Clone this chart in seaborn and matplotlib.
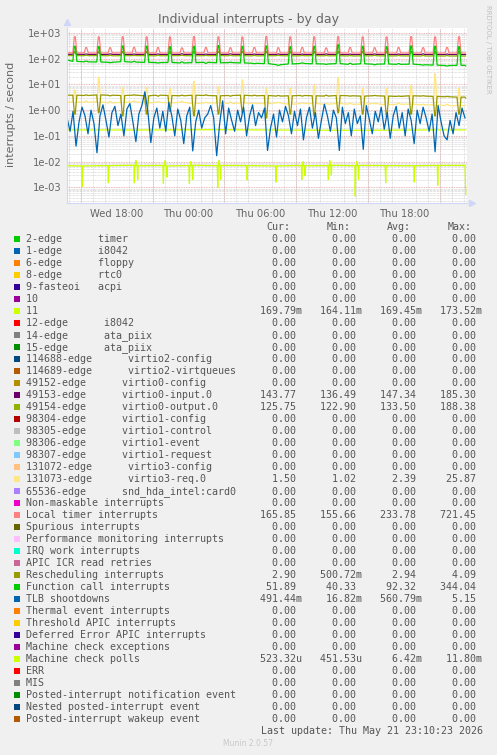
import numpy as np
import matplotlib
matplotlib.use("Agg")
import matplotlib.pyplot as plt
import seaborn as sns
from matplotlib.patches import Rectangle
from matplotlib.ticker import LogLocator, FixedLocator, MultipleLocator, NullFormatter, FuncFormatter

# ---------------- data (hours since Wed 00:00) ----------------
t_start, t_end = 13.85, 47.16

# shared event times (big spikes on even index, small bumps on odd)
ev_t = [14.5, 15.45, 16.5, 17.45, 18.5, 19.45, 20.5, 21.45, 22.45, 23.45, 24.45,
        25.45, 26.5, 27.5, 28.5, 29.5, 30.5, 31.5, 32.5, 33.5, 34.5, 35.5, 36.5,
        37.5, 38.55, 39.55, 40.55, 41.55, 42.6, 43.6, 44.6, 45.6, 46.6]

local_peak = [705, 270, 700, 265, 710, 275, 700, 270, 695, 260, 715, 270, 700, 265, 690, 270,
              721, 265, 700, 270, 705, 260, 710, 270, 700, 265, 695, 270, 715, 265, 700, 270, 705]
local_lvl = [168, 167, 166, 167, 168, 166, 167, 166, 165, 167, 166, 168, 167, 166, 165, 167,
             166, 165, 167, 166, 165, 166, 167, 165, 166, 167, 165, 166, 167, 166, 165, 166, 166]
local_ends = [168, 165.85]

func_peak = [300, 80, 295, 70, 310, 78, 305, 68, 290, 74, 300, 66, 320, 72, 300, 64,
             310, 55, 290, 68, 300, 60, 344, 66, 300, 58, 290, 64, 310, 56, 300, 52, 290]
func_lvl = [78, 75, 74, 72, 76, 73, 72, 70, 71, 68, 70, 72, 69, 70, 68, 66,
            64, 58, 62, 65, 63, 62, 64, 60, 63, 61, 62, 60, 61, 58, 56, 54, 55]
func_ends = [90, 51.89]

resched_peak = [0.7, 3.9, 0.8, 3.6, 0.6, 3.9, 0.7, 3.5, 0.9, 3.8, 0.6, 3.9, 0.7, 3.5, 0.8, 3.8,
                0.5, 3.7, 0.7, 3.5, 0.6, 3.8, 0.8, 3.5, 0.7, 3.7, 0.6, 3.5, 0.7, 3.6, 0.6, 3.4, 0.7]
resched_lvl = [3.8, 3.7, 3.9, 3.8, 3.7, 3.8, 3.6, 3.8, 3.7, 3.6, 3.8, 3.7, 3.6, 3.7, 3.8, 3.6,
               3.7, 3.5, 3.6, 3.7, 3.6, 3.5, 3.7, 3.6, 3.5, 3.6, 3.5, 3.4, 3.6, 3.5, 3.4, 3.3, 3.2]
resched_ends = [3.8, 2.90]

req_peak = [6, 2.3, 19, 2.2, 7.5, 2.3, 7.5, 2.1, 7, 2.2, 13, 2.0, 8, 2.1, 15, 1.9,
            7, 2.0, 7, 1.9, 9, 1.8, 18, 1.9, 7, 1.8, 7, 1.9, 9, 1.7, 25.87, 1.7, 7]
req_lvl = [2.1, 2.0, 2.1, 1.9, 2.0, 2.1, 1.9, 2.0, 1.9, 2.0, 1.8, 1.9, 1.9, 1.8, 1.9, 1.8,
           1.8, 1.9, 1.7, 1.8, 1.8, 1.7, 1.8, 1.7, 1.7, 1.8, 1.6, 1.7, 1.7, 1.6, 1.6, 1.5, 1.5]
req_ends = [2.0, 1.50]

in_peak = [180, 150, 178, 152, 182, 150, 179, 151, 176, 153, 185.3, 150, 180, 152, 178, 150,
           181, 151, 177, 150, 183, 152, 179, 150, 180, 151, 178, 150, 182, 152, 179, 150, 180]
in_lvl = [148, 147, 146, 147, 145, 146, 147, 146, 145, 146, 147, 145, 146, 147, 145, 146,
          144, 145, 146, 145, 144, 146, 145, 144, 145, 146, 144, 145, 146, 144, 145, 144, 144]
in_ends = [147, 143.77]

out_peak = [182, 135, 184, 134, 186, 133, 183, 135, 180, 134, 188.38, 133, 184, 135, 182, 133,
            185, 134, 181, 132, 184, 133, 186, 132, 183, 134, 181, 132, 185, 133, 182, 131, 184]
out_lvl = [131, 130, 131, 129, 130, 131, 130, 129, 130, 131, 129, 130, 131, 129, 130, 128,
           129, 130, 128, 129, 130, 128, 129, 127, 128, 129, 127, 128, 127, 126, 127, 126, 126]
out_ends = [131, 125.75]

irq11_t = [13.85, 20, 26, 32, 38, 44, 47.16]
irq11_v = [0.170, 0.169, 0.1735, 0.168, 0.164, 0.170, 0.16979]

mcp_t = [15.13, 17.3, 19.47, 19.6, 19.75, 21.9, 22.05, 22.2, 24.07, 24.2, 24.35, 26.44, 26.55,
         26.68, 28.9, 31.3, 33.46, 33.58, 33.72, 35.68, 35.8, 35.93, 37.93, 38.06, 38.2, 40.47,
         42.86, 44.82]
mcp_peak = [0.0011, 0.0015, 0.0015, 0.011, 0.002, 0.0014, 0.011, 0.0025, 0.0014, 0.010, 0.002,
            0.001, 0.011, 0.002, 0.0019, 0.0016, 0.002, 0.010, 0.0028, 0.002, 0.011, 0.003,
            0.00045, 0.010, 0.002, 0.0015, 0.0016, 0.0012]
mcp_lvl = [0.0068, 0.0070, 0.0072, 0.0070, 0.0069, 0.0071, 0.0070, 0.0068, 0.0070, 0.0071, 0.0072,
           0.0069, 0.0070, 0.0071, 0.0070, 0.0068, 0.0071, 0.0070, 0.0069, 0.0070, 0.0071, 0.0072,
           0.0069, 0.0070, 0.0071, 0.0070, 0.0069, 0.0071]
mcp_ends = [0.0069, 0.00052]

# TLB shootdowns, 15 minute samples from t_start
tlb = [0.5, 0.15, 0.9, 0.04, 0.35, 1.3, 0.6, 0.12,
       1.0, 0.3, 0.022, 0.6, 1.6, 0.4, 0.09, 0.8,
       1.4, 0.25, 0.7, 0.1, 1.1, 1.8, 0.35, 0.06,
       0.7, 1.5, 5.15, 0.9, 0.055, 0.5, 1.2, 0.2,
       0.9, 0.15, 2.0, 0.6, 0.1, 1.1, 0.4, 0.05,
       0.6, 1.3, 0.026, 0.35, 1.0, 0.2, 0.5, 0.7,
       1.5, 0.5, 0.017, 0.3, 2.3, 0.12, 1.2, 0.4,
       0.15, 1.0, 0.35, 1.3, 0.1, 0.6, 1.6, 0.25,
       0.8, 0.5, 1.2, 0.027, 0.2, 0.7, 0.09, 1.0,
       0.35, 1.4, 0.6, 0.12, 0.9, 0.25, 1.1, 0.07,
       0.5, 1.3, 0.2, 0.8, 0.08, 0.4, 1.7, 0.6,
       0.15, 1.0, 0.5, 0.027, 1.3, 0.3, 0.8, 0.1,
       1.1, 0.3, 0.6, 0.03, 1.5, 0.45, 0.12, 0.9,
       0.35, 1.3, 0.18, 0.8, 0.08, 0.6, 1.4, 0.2,
       0.8, 0.1, 1.1, 0.4, 0.05, 1.0, 0.3, 1.3,
       0.5, 0.15, 0.7, 0.024, 1.5, 0.35, 0.1, 0.07,
       0.4, 0.12, 0.8, 0.25, 1.2, 0.49]

tick_hours = [18, 24, 30, 36, 42]
tick_labels = ["Wed 18:00", "Thu 00:00", "Thu 06:00", "Thu 12:00", "Thu 18:00"]
major_grid_hours = [15, 21, 27, 33, 39, 45]

names = ["2-edge      timer", "1-edge      i8042", "6-edge      floppy", "8-edge      rtc0",
         "9-fasteoi   acpi", "10", "11", "12-edge      i8042", "14-edge      ata_piix",
         "15-edge      ata_piix", "114688-edge      virtio2-config",
         "114689-edge      virtio2-virtqueues", "49152-edge      virtio0-config",
         "49153-edge      virtio0-input.0", "49154-edge      virtio0-output.0",
         "98304-edge      virtio1-config", "98305-edge      virtio1-control",
         "98306-edge      virtio1-event", "98307-edge      virtio1-request",
         "131072-edge      virtio3-config", "131073-edge      virtio3-req.0",
         "65536-edge      snd_hda_intel:card0", "Non-maskable interrupts",
         "Local timer interrupts", "Spurious interrupts", "Performance monitoring interrupts",
         "IRQ work interrupts", "APIC ICR read retries", "Rescheduling interrupts",
         "Function call interrupts", "TLB shootdowns", "Thermal event interrupts",
         "Threshold APIC interrupts", "Deferred Error APIC interrupts",
         "Machine check exceptions", "Machine check polls", "ERR", "MIS",
         "Posted-interrupt notification event", "Nested posted-interrupt event",
         "Posted-interrupt wakeup event"]

palette = ["#00CC00", "#0066B3", "#FF8000", "#FFCC00", "#330099", "#990099", "#CCFF00",
           "#FF0000", "#808080", "#008F00", "#00487D", "#B35A00", "#B38F00", "#6B006B",
           "#8FB300", "#B30000", "#BEBEBE", "#80FF80", "#80C9FF", "#FFC080", "#FFE680",
           "#AA80FF", "#EE00CC", "#FF8080", "#666600", "#FFBFFF", "#00FFCC", "#CC6699",
           "#999900"]

z = "0.00"
cur = [z, z, z, z, z, z, "169.79m", z, z, z, z, z, z, "143.77", "125.75", z, z, z, z, z,
       "1.50", z, z, "165.85", z, z, z, z, "2.90", "51.89", "491.44m", z, z, z, z,
       "523.32u", z, z, z, z, z]
mins = [z, z, z, z, z, z, "164.11m", z, z, z, z, z, z, "136.49", "122.90", z, z, z, z, z,
        "1.02", z, z, "155.66", z, z, z, z, "500.72m", "40.33", "16.82m", z, z, z, z,
        "451.53u", z, z, z, z, z]
avgs = [z, z, z, z, z, z, "169.45m", z, z, z, z, z, z, "147.34", "133.50", z, z, z, z, z,
        "2.39", z, z, "233.78", z, z, z, z, "2.94", "92.32", "560.79m", z, z, z, z,
        "6.42m", z, z, z, z, z]
maxs = [z, z, z, z, z, z, "173.52m", z, z, z, z, z, z, "185.30", "188.38", z, z, z, z, z,
        "25.87", z, z, "721.45", z, z, z, z, "4.09", "344.04", "5.15", z, z, z, z,
        "11.80m", z, z, z, z, z]


def pulse_line(ends, times, peaks, levels, w, top):
    ts, vs = [t_start], [ends[0]]
    for t, p, l in zip(times, peaks, levels):
        ts += [t - w, t - top, t + top, t + w]
        vs += [l, p, p, l]
    # hold the last level until just before the final sample
    ts += [t_end - 0.06, t_end]
    vs += [levels[-1], ends[1]]
    return ts, vs


def fmt_val(s):
    if s[-1].isalpha():
        return f"{s[:-1]:>9}{s[-1]}"
    return f"{s:>9} "


sns.set_theme(style="white")
plt.rcParams["font.family"] = ["DejaVu Sans"]
fg = "#666666"

fig = plt.figure(figsize=(4.97, 7.55), dpi=100, facecolor="#F0F0F0")
ax = fig.add_axes([66.7 / 497, 1 - 203.3 / 755, 400 / 497, 175.3 / 755])
ax.set_facecolor("white")
ax.set_yscale("log")

series = [
    (irq11_t, irq11_v, palette[6]),
    (*pulse_line(in_ends, ev_t, in_peak, in_lvl, 0.17, 0.04), palette[13]),
    (*pulse_line(out_ends, ev_t, out_peak, out_lvl, 0.17, 0.04), palette[14]),
    (*pulse_line(req_ends, ev_t, req_peak, req_lvl, 0.15, 0.02), palette[20]),
    (*pulse_line(local_ends, ev_t, local_peak, local_lvl, 0.17, 0.04), palette[23]),
    (*pulse_line(resched_ends, ev_t, resched_peak, resched_lvl, 0.17, 0.03), palette[28]),
    (*pulse_line(func_ends, ev_t, func_peak, func_lvl, 0.17, 0.04), palette[0]),
    (t_start + 0.25 * np.arange(len(tlb)), tlb, palette[1]),
    (*pulse_line(mcp_ends, mcp_t, mcp_peak, mcp_lvl, 0.04, 0.0), palette[6]),
]
for xs, ys, col in series:
    sns.lineplot(x=np.asarray(xs), y=np.asarray(ys), ax=ax, color=col, lw=0.9,
                 estimator=None, sort=False, legend=False)

ax.set_xlim(13.82, 47.24)
ax.set_ylim(10 ** -3.62, 10 ** 3.19)

ax.yaxis.set_major_locator(LogLocator(base=10, numticks=20))
ax.yaxis.set_minor_locator(LogLocator(base=10, subs=np.arange(2, 10), numticks=20))
ax.yaxis.set_major_formatter(FuncFormatter(lambda v, p: f"{v:.0e}"))
ax.yaxis.set_minor_formatter(NullFormatter())
ax.xaxis.set_major_locator(FixedLocator(tick_hours))
ax.set_xticklabels(tick_labels)
ax.xaxis.set_minor_locator(MultipleLocator(1))
ax.tick_params(axis="both", which="both", length=0, labelsize=7.2, labelcolor=fg, pad=4)

ax.grid(which="minor", color="#C8C8C8", ls=(0, (1, 1)), lw=0.5)
ax.grid(which="major", axis="y", color="#E3A0A0", ls=(0, (1, 1)), lw=0.6)
ax.grid(which="major", axis="x", visible=False)
for h in major_grid_hours:
    ax.axvline(h, color="#E3A0A0", ls=(0, (1, 1)), lw=0.6, zorder=0.5)
ax.set_axisbelow(True)
ax.set_xlabel("")
ax.set_ylabel("")

for side in ["top", "right"]:
    ax.spines[side].set_visible(False)
for side in ["left", "bottom"]:
    ax.spines[side].set_color("#CFD6F8")
    ax.spines[side].set_linewidth(0.8)
ax.plot([0], [1.035], marker="^", ms=4, color="#CFD6F8", transform=ax.transAxes, clip_on=False)
ax.plot([1.012], [0], marker=">", ms=4, color="#CFD6F8", transform=ax.transAxes, clip_on=False)

# overlay in pixel coordinates for texts and legend
ov = fig.add_axes([0, 0, 1, 1])
ov.set_xlim(0, 497)
ov.set_ylim(755, 0)
ov.axis("off")
ov.patch.set_alpha(0)

ov.text(248, 19.3, "Individual interrupts - by day", ha="center", va="center", fontsize=9, color=fg)
ov.text(11, 114, "interrupts / second", ha="center", va="center", rotation=90, fontsize=8, color=fg)
ov.text(488, 5, "RRDTOOL / TOBI OETIKER", ha="center", va="top", rotation=270, fontsize=5,
        color="#C0C0C0")

mono = "DejaVu Sans Mono"
txt = "#555555"
cw = 7.2 * 100 / 72 * 0.602  # monospace advance in pixels
for k, head in enumerate(["Cur:", "Min:", "Avg:", "Max:"]):
    ov.text(26 + (40 + 10 * k) * cw, 227.2, head, ha="left", va="center", fontsize=7.2,
            family=mono, color=txt)
for i, name in enumerate(names):
    yc = 239.3 + 12 * i
    ov.add_patch(Rectangle((14, yc - 3), 6, 6, color=palette[i % len(palette)], lw=0))
    row = f"{name:<36}" + fmt_val(cur[i]) + fmt_val(mins[i]) + fmt_val(avgs[i]) + fmt_val(maxs[i])
    ov.text(26, yc, row, ha="left", va="center", fontsize=7.2, family=mono, color=txt)
ov.text(483, 731, "Last update: Thu May 21 23:10:23 2026", ha="right", va="center",
        fontsize=7.2, family=mono, color=txt)
ov.text(248, 744, "Munin 2.0.57", ha="center", va="center", fontsize=5.5, color="#C8C8C8")

fig.savefig("out.png", dpi=100, facecolor=fig.get_facecolor())
